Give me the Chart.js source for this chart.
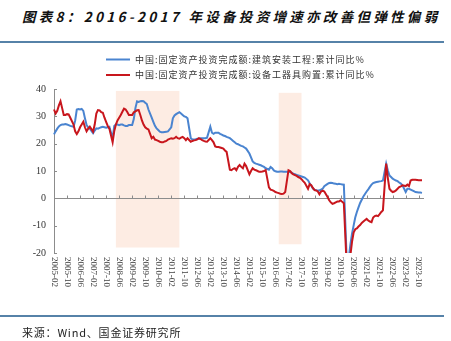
<!DOCTYPE html>
<html>
<head>
<meta charset="utf-8">
<script src="https://cdn.jsdelivr.net/npm/chart.js@4.4.1/dist/chart.umd.min.js"></script>
<style>
html, body { margin: 0; padding: 0; background: #fff; }
#wrap { position: relative; width: 451px; height: 341px; overflow: hidden; }
#title { position: absolute; left: 22px; top: 6px; font: italic bold 13.5px "Noto Sans CJK SC"; letter-spacing: 3.3px; color: #111; white-space: nowrap; }
.rule { position: absolute; left: 0; width: 444px; height: 2px; background: #5682a8; }
#source { position: absolute; left: 22px; top: 324px; font: 11px "Noto Sans CJK SC"; letter-spacing: 0.8px; color: #222; white-space: nowrap; }
canvas { position: absolute; left: 0; top: 0; }
</style>
</head>
<body>
<div id="wrap">
  <div id="title">图表8：2016-2017 年设备投资增速亦改善但弹性偏弱</div>
  <div class="rule" style="top:41px"></div>
  <canvas id="chart" width="451" height="341"></canvas>
  <div class="rule" style="top:315px"></div>
  <div id="source">来源：Wind、国金证券研究所</div>
</div>
<script>
// monthly categories 2005-02 .. 2023-12 (January has no release, kept as null)
const months = [];
for (let yr = 2005; yr <= 2023; yr++) {
    for (let mo = 1; mo <= 12; mo++) {
        if (yr === 2005 && mo === 1) continue;
        months.push(`${yr}-${String(mo).padStart(2, '0')}`);
    }
}

const tickLabels = ['2005-02', '2005-10', '2006-06', '2007-02', '2007-10', '2008-06', '2009-02', '2009-10',
    '2010-06', '2011-02', '2011-10', '2012-06', '2013-02', '2013-10', '2014-06', '2015-02', '2015-10',
    '2016-06', '2017-02', '2017-10', '2018-06', '2019-02', '2019-10', '2020-06', '2021-02', '2021-10',
    '2022-06', '2023-02', '2023-10'];

// 建筑安装工程 累计同比 %
const construction = [
    [23.4, 24.5, 25.5, 26.3, 26.8, 27, 27, 27.2, 27, 26.8, 26.5],
    [null, 26.2, 28.5, 32.5, 32.7, 32.5, 32.7, 32, 29.3, 26.8, 26, 25.5],
    [null, 23.8, 24.8, 25.6, 25.5, 25.8, 26, 26.2, 26, 25.8, 26, 26.2],
    [null, 22, 26.5, 27, 27, 26.8, 27, 27, 26.7, 26.5, 26.5, 26.8],
    [null, 26.8, 29, 33, 35.5, 35.3, 35.5, 35.6, 35.5, 35, 34.5, 32.5],
    [null, 29.5, 28, 26.5, 25.6, 25, 24.4, 24.2, 24.2, 24.3, 24.4, 24.5],
    [null, 26, 29.3, 30.3, 30.8, 31.2, 31.5, 31, 30.5, 30, 29.8, 29.3],
    [null, 22, 21.5, 21.5, 21.6, 21.8, 21.8, 22, 22, 22, 22, 22.2],
    [null, 26.2, 24, 23.6, 24, 24, 24, 23.6, 23.3, 23, 22.8, 22.5],
    [null, 22, 21.5, 21, 20.5, 20, 19.8, 19.5, 19.2, 19, 18.6, 18.2],
    [null, 16.4, 15, 13.5, 13, 12.7, 12.5, 12.3, 12.1, 11.8, 11.5, 11],
    [null, 10.5, 11.5, 11, 10.2, 9.9, 9.7, 9.7, 9.8, 9.8, 9.7, 9.7],
    [null, 9.7, 9.6, 9.4, 9, 8.8, 8.6, 8.4, 8.2, 8, 7.8, 7.6],
    [null, 6.6, 5.5, 4.6, 3.6, 3.2, 3, 2.9, 2.9, 3.2, 3.5, 4.4],
    [null, 5.3, 5.6, 5.7, 5.6, 5.4, 5.3, 5.2, 5.3, 5.2, 5.1, 5],
    [null, -26, -22, -17, -13, -10, -7, -5, -3.3, -1.7, -0.5, 0.7],
    [null, 2.5, 3.3, 4.2, 5, 5.6, 5.8, 6, 6.1, 6.2, 6.3, 6.5],
    [null, 12.7, 10.3, 8.4, 7.8, 7.2, 6.8, 6.5, 6.3, 5.8, 5.4, 4.8],
    [null, 2.3, 3.5, 3.5, 3.2, 2.9, 2.6, 2.3, 2.2, 2.1, 2.1, 2]
].flat();

// 设备工器具购置 累计同比 %
const equipment = [
    [32.5, 31, 32, 34, 35.5, 33, 30.5, 30.5, 30.8, 30.7, 29.5],
    [null, 27, 24.5, 23.5, 24.5, 26, 27, 28, 26, 24.5, 25.5, 26.2],
    [null, 24.4, 27, 31, 32.3, 32.2, 31.5, 31.3, 29.5, 28, 26.5, 25.5],
    [null, 20.5, 24.5, 27, 28.5, 29.5, 30.5, 31.7, 32.8, 32.5, 31.6, 30.5],
    [null, 30.5, 31.5, 31.8, 32.2, 32.3, 30.5, 28.5, 27, 26, 25.5, 25.2],
    [null, 22, 22.5, 21.5, 21.3, 21, 20.7, 20.5, 20.5, 20.8, 21, 21.5],
    [null, 22, 21.8, 22, 22.5, 22, 21.8, 22.2, 22.5, 22, 21.3, 22],
    [null, 20.7, 21, 21.2, 21.3, 21.6, 22, 21.7, 21.3, 21, 20.8, 20.7],
    [null, 22, 21.3, 20.5, 19, 18.8, 18.8, 18.6, 18.4, 18.2, 17.5, 17],
    [null, 10.5, 10.3, 10.8, 11, 10.3, 11.5, 12.2, 11.5, 11, 12.7, 11.8],
    [null, 8.8, 10, 11, 10.5, 10.3, 10, 9.7, 9.7, 9.8, 10, 10.3],
    [null, 4, 3.2, 3, 2.7, 2.3, 2.1, 1.9, 1.7, 1.6, 1.7, 2.3],
    [null, 10.3, 10, 9.2, 8.8, 8.5, 8.2, 7.8, 7.5, 7, 6.3, 5.7],
    [null, 3.5, 5.2, 4.8, 3.8, 3, 2.9, 2.5, 1.5, 2.5, 2.8, 2.5],
    [null, 0.5, -0.7, -1.5, -2, -1.8, -1.5, -1.2, -1.2, -0.7, -1.3, -1.8],
    [null, -28, -26, -21, -16, -12.5, -11.3, -11, -10.3, -9.8, -9, -8.5],
    [null, -7.5, -8.1, -8.5, -8.7, -7, -6.5, -6.3, -6.5, -5.8, -5, -4.4],
    [null, 12.7, 7.5, 3.5, 2.8, 2.3, 2.5, 2.9, 3.5, 4.1, 4.4, 4.8],
    [null, 4.5, 5, 4.5, 6.5, 6.8, 6.8, 6.8, 6.7, 6.6, 6.6, 6.6]
].flat();

// highlighted periods: from / to month, top / bottom value
const shadePeriods = [
    ['2008-04', '2011-07', 39.3, -18],
    ['2016-08', '2017-10', 38.6, -16.8]
];

const decor = {
    id: 'decor',
    beforeDatasetsDraw(chart) {
        const {ctx, chartArea, scales: {x, y}} = chart;
        ctx.save();
        ctx.fillStyle = '#fdece3';
        shadePeriods.forEach(([from, to, top, bottom]) => {
            const x0 = x.getPixelForValue(months.indexOf(from));
            const x1 = x.getPixelForValue(months.indexOf(to));
            const y0 = y.getPixelForValue(top);
            const y1 = y.getPixelForValue(bottom);
            ctx.fillRect(x0, y0, x1 - x0, y1 - y0);
        });

        // zero line with small upward ticks
        const zy = Math.round(y.getPixelForValue(0)) + 0.5;
        ctx.strokeStyle = '#8c8c8c';
        ctx.lineWidth = 1;
        ctx.beginPath();
        ctx.moveTo(chartArea.left, zy);
        ctx.lineTo(chartArea.right + 2, zy);
        tickLabels.forEach(l => {
            const px = Math.round(x.getPixelForValue(months.indexOf(l))) + 0.5;
            ctx.moveTo(px, zy);
            ctx.lineTo(px, zy - 3);
        });
        // inward ticks on the value axis
        y.ticks.forEach(t => {
            const py = Math.round(y.getPixelForValue(t.value)) + 0.5;
            ctx.moveTo(chartArea.left, py);
            ctx.lineTo(chartArea.left + 3, py);
        });
        ctx.stroke();
        ctx.restore();
    },
    afterDraw(chart) {
        const {ctx, chartArea, scales: {x}} = chart;
        ctx.save();
        // vertical date labels, reading downwards
        ctx.font = '9px "Liberation Serif"';
        ctx.fillStyle = '#444';
        ctx.textAlign = 'left';
        ctx.textBaseline = 'middle';
        tickLabels.forEach(l => {
            const px = x.getPixelForValue(months.indexOf(l));
            ctx.save();
            ctx.translate(px, chartArea.bottom + 4);
            ctx.rotate(Math.PI / 2);
            ctx.fillText(l, 0, 0);
            ctx.restore();
        });

        // legend, one row per series
        ctx.font = '9px "Noto Sans CJK SC"';
        ctx.letterSpacing = '1px';
        ctx.fillStyle = '#333';
        chart.data.datasets.forEach((ds, i) => {
            const ly = 59.5 + i * 15.5;
            ctx.strokeStyle = ds.borderColor;
            ctx.lineWidth = 2;
            ctx.beginPath();
            ctx.moveTo(106, ly);
            ctx.lineTo(130, ly);
            ctx.stroke();
            ctx.fillText(ds.label, 135, ly);
        });
        ctx.restore();
    }
};

new Chart(document.getElementById('chart'), {
    type: 'line',
    data: {
        labels: months,
        datasets: [{
            label: '中国:固定资产投资完成额:建筑安装工程:累计同比%',
            data: construction,
            borderColor: '#4a84d0',
            borderWidth: 2,
            pointRadius: 0,
            tension: 0,
            spanGaps: true,
            order: 1
        }, {
            label: '中国:固定资产投资完成额:设备工器具购置:累计同比%',
            data: equipment,
            borderColor: '#c8161d',
            borderWidth: 2,
            pointRadius: 0,
            tension: 0,
            spanGaps: true,
            order: 0
        }]
    },
    options: {
        responsive: false,
        animation: false,
        layout: {padding: {top: 89, right: 29, left: 0, bottom: 0}},
        plugins: {legend: {display: false}, tooltip: {enabled: false}},
        scales: {
            x: {
                offset: false,
                grid: {display: false, drawTicks: false},
                border: {display: false},
                ticks: {display: false},
                afterFit: s => { s.height = 88; }
            },
            y: {
                min: -20,
                max: 40,
                ticks: {stepSize: 10, color: '#333', padding: 8, font: {family: 'Liberation Serif', size: 10}},
                grid: {display: false, drawTicks: false},
                border: {display: true, color: '#8c8c8c', width: 1},
                afterFit: s => { s.width = 54; }
            }
        }
    },
    plugins: [decor]
});
</script>
</body>
</html>
